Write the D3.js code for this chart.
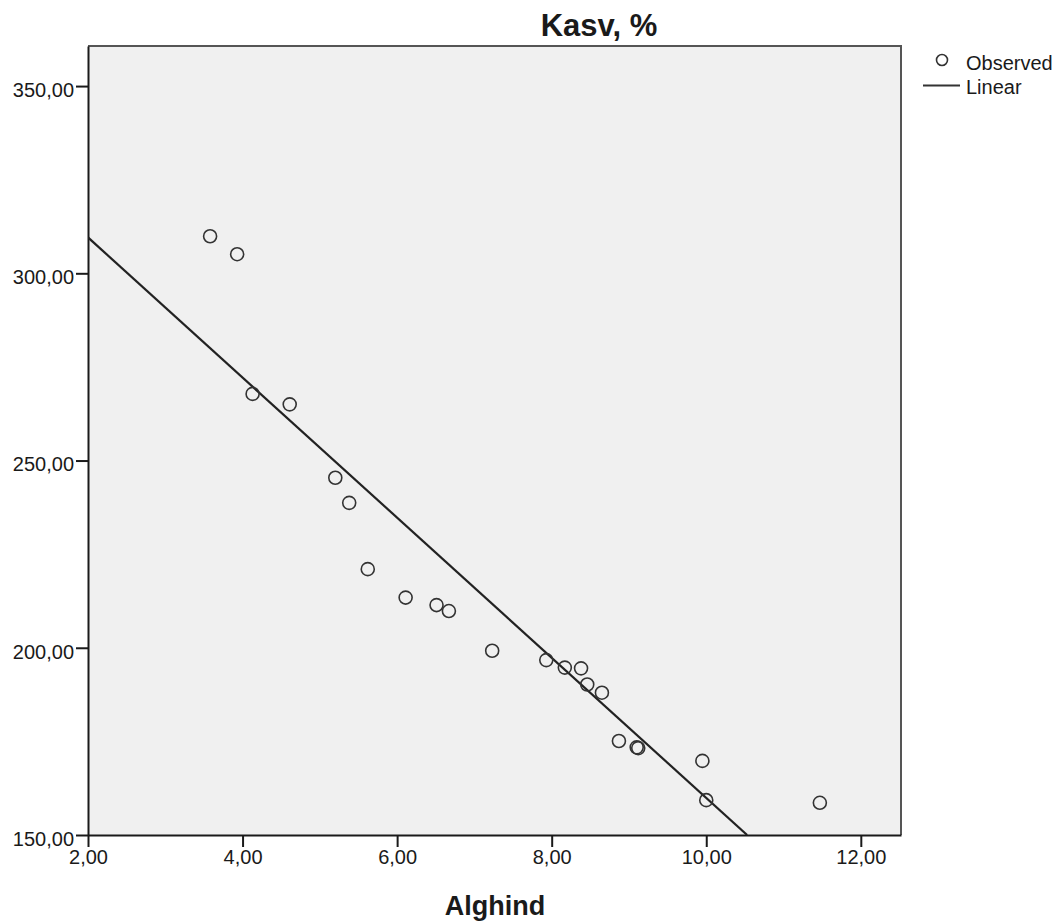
<!DOCTYPE html>
<html>
<head>
<meta charset="utf-8">
<script src="https://cdn.jsdelivr.net/npm/d3@7"></script>
<style>
  html, body { margin: 0; padding: 0; background: #fff; }
  svg text { font-family: "Liberation Sans", Arial, sans-serif; fill: #1a1a1a; }
</style>
</head>
<body>
<div id="chart"></div>
<script>
// Observed points (Alghind, Kasv %)
const alghind = [3.58, 3.93, 4.13, 4.61, 5.20, 5.38, 5.62, 6.11, 6.51, 6.67, 7.23,
  7.93, 8.17, 8.38, 8.46, 8.65, 8.87, 9.10, 9.12, 9.95, 10.00, 11.47];
const kasv = [309.9, 305.1, 267.8, 265.0, 245.4, 238.7, 221.0, 213.4, 211.4, 209.8, 199.2,
  196.7, 194.7, 194.5, 190.2, 188.0, 175.1, 173.4, 173.2, 169.8, 159.3, 158.6];

// Linear fit
const fitIntercept = 347.0;
const fitSlope = -18.71;

const xTicks = [2, 4, 6, 8, 10, 12];
const yTicks = [150, 200, 250, 300, 350];

const W = 1064, H = 923;
const plot = { left: 88, top: 46, right: 901, bottom: 835 };

const fmt = v => d3.format('.2f')(v).replace('.', ',');

const svg = d3.select('#chart').append('svg')
  .attr('width', W)
  .attr('height', H);

const x = d3.scaleLinear().domain([2, 12.52]).range([plot.left, plot.right]);
const y = d3.scaleLinear().domain([150, 360.7]).range([plot.bottom, plot.top]);

// plot background + frame
svg.append('rect')
  .attr('x', plot.left).attr('y', plot.top)
  .attr('width', plot.right - plot.left).attr('height', plot.bottom - plot.top)
  .attr('fill', '#f0f0f0');

svg.append('path')
  .attr('d', `M${plot.left},${plot.top}H${plot.right}V${plot.bottom}`)
  .attr('fill', 'none')
  .attr('stroke', '#555')
  .attr('stroke-width', 2);

svg.append('defs').append('clipPath').attr('id', 'clip')
  .append('rect')
  .attr('x', plot.left).attr('y', plot.top)
  .attr('width', plot.right - plot.left).attr('height', plot.bottom - plot.top);

// axes
const xAxis = svg.append('g')
  .attr('transform', `translate(0,${plot.bottom})`)
  .call(d3.axisBottom(x).tickValues(xTicks).tickFormat(fmt).tickSize(12).tickSizeOuter(0));

const yAxis = svg.append('g')
  .attr('transform', `translate(${plot.left},0)`)
  .call(d3.axisLeft(y).tickValues(yTicks).tickFormat(fmt).tickSize(12).tickSizeOuter(0));

[xAxis, yAxis].forEach(g => {
  g.selectAll('.domain, .tick line').attr('stroke', '#1a1a1a').attr('stroke-width', 2);
  g.selectAll('text')
    .style('font-family', '"Liberation Sans", Arial, sans-serif')
    .style('font-size', '20px')
    .attr('fill', '#1a1a1a');
});
xAxis.selectAll('text').attr('y', 15).attr('dy', '0.71em');
yAxis.selectAll('text').attr('x', -14).attr('dy', '0.52em');

// fit line
const x0 = 2;
const x1 = (150 - fitIntercept) / fitSlope;
svg.append('line')
  .attr('clip-path', 'url(#clip)')
  .attr('x1', x(x0)).attr('y1', y(fitIntercept + fitSlope * x0))
  .attr('x2', x(x1)).attr('y2', y(fitIntercept + fitSlope * x1))
  .attr('stroke', '#222')
  .attr('stroke-width', 2.2);

// observed points
svg.append('g')
  .selectAll('circle')
  .data(alghind.map((a, i) => [a, kasv[i]]))
  .enter()
  .append('circle')
  .attr('cx', d => x(d[0]))
  .attr('cy', d => y(d[1]))
  .attr('r', 6.5)
  .attr('fill', 'none')
  .attr('stroke', '#333')
  .attr('stroke-width', 1.6);

// title and axis label
svg.append('text')
  .attr('x', 599).attr('y', 36)
  .attr('text-anchor', 'middle')
  .style('font-size', '31px').style('font-weight', 'bold')
  .text('Kasv, %');

svg.append('text')
  .attr('x', 495).attr('y', 915)
  .attr('text-anchor', 'middle')
  .style('font-size', '27px').style('font-weight', 'bold')
  .text('Alghind');

// legend
const legend = svg.append('g');
legend.append('circle')
  .attr('cx', 942).attr('cy', 60).attr('r', 5.5)
  .attr('fill', 'none').attr('stroke', '#333').attr('stroke-width', 1.6);
legend.append('text').attr('x', 966).attr('y', 70)
  .style('font-size', '20px').text('Observed');
legend.append('line')
  .attr('x1', 923).attr('x2', 960).attr('y1', 85.5).attr('y2', 85.5)
  .attr('stroke', '#333').attr('stroke-width', 2.2);
legend.append('text').attr('x', 966).attr('y', 94)
  .style('font-size', '20px').text('Linear');
</script>
</body>
</html>
